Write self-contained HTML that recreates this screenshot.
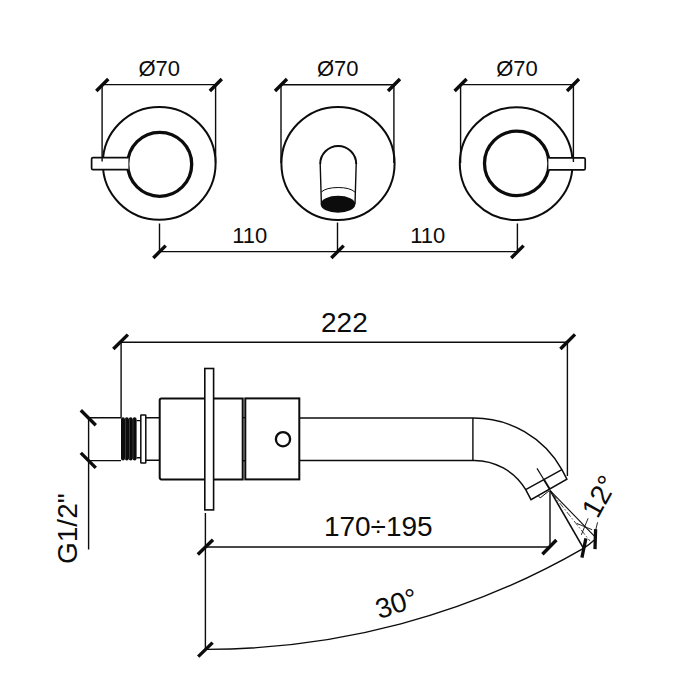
<!DOCTYPE html>
<html><head><meta charset="utf-8"><title>Drawing</title>
<style>
html,body{margin:0;padding:0;background:#fff;}
svg{display:block;}
text{font-family:"Liberation Sans",sans-serif;fill:#0c0c0c;}
.t{stroke:#0c0c0c;stroke-width:1.4;fill:none;}
.o{stroke:#0c0c0c;stroke-width:2;fill:none;}
.k{stroke:#0c0c0c;stroke-width:3.4;fill:none;stroke-linecap:butt;}
</style></head><body>
<svg width="700" height="700" viewBox="0 0 700 700">
<rect width="700" height="700" fill="#fff"/>
<!-- TOP LEFT -->
<g id="tl">
<circle class="o" cx="159.2" cy="163.3" r="56.4"/>
<circle class="o" cx="159.7" cy="164.3" r="32" style="stroke-width:3.3"/>
<path class="o" d="M128.4,157.7H93 Q91.6,157.7 91.6,159.1 V168.3 Q91.6,169.7 93,169.7 H128.4" style="stroke-width:1.7;fill:#fff"/>
<path class="t" d="M102.1,84.6V161.4 M215.6,84.6V163 M102.1,84.6H215.6"/>
<path class="k" d="M96.3,91 L108.3,79 M209.8,91 L221.8,79"/>
<text x="159.3" y="76" font-size="22" text-anchor="middle">Ø70</text>
</g>
<!-- TOP MIDDLE -->
<g id="tm">
<circle class="o" cx="338" cy="163.5" r="56.6"/>
<path class="t" d="M281,84.7V163 M393.9,84.7V163 M281,84.7H393.9"/>
<path class="k" d="M275,91 L287,79 M388,91 L400,79"/>
<text x="337.7" y="76" font-size="22" text-anchor="middle">Ø70</text>
<path class="o" d="M320.2,164 A18,18 0 0 1 356.2,164" style="stroke-width:2"/>
<path class="t" d="M320.2,164 L321.4,204 M356.2,164 L355,204" style="stroke-width:1.4"/>
<path class="t" d="M321.3,192 A18.5,7.7 0 0 1 354.9,192" style="stroke-width:1"/>
<ellipse cx="338" cy="204.2" rx="17.3" ry="8.5" fill="#0c0c0c"/>
</g>
<!-- TOP RIGHT -->
<g id="tr">
<circle class="o" cx="516.2" cy="163.6" r="56.4"/>
<circle class="o" cx="516.7" cy="163.4" r="32.2" style="stroke-width:3.3"/>
<path class="o" d="M548.4,157.9H583.8 Q585.2,157.9 585.2,159.3 V168.5 Q585.2,169.9 583.8,169.9 H548.4" style="stroke-width:1.7;fill:#fff"/>
<path class="t" d="M460.6,84.6V163 M573.4,84.6V162 M460.6,84.6H573.4"/>
<path class="k" d="M454.6,91 L466.6,79 M567,91 L579,79"/>
<text x="517" y="76" font-size="22" text-anchor="middle">Ø70</text>
</g>
<!-- 110 dims -->
<g id="d110">
<path class="t" d="M159.5,223.6V251.6 M337.5,222.5V251.6 M517.4,223.6V251.6 M159.5,251.6H517.4"/>
<path class="k" d="M153.3,258 L165.7,245.6 M331.3,258 L343.7,245.6 M511.2,258 L523.6,245.6"/>
<text x="249.7" y="243" font-size="22" text-anchor="middle">110</text>
<text x="427.8" y="243" font-size="22" text-anchor="middle">110</text>
</g>
<!-- SIDE VIEW -->
<g id="side">
<!-- 222 dim -->
<path class="t" d="M121.1,342.3H567.4 M121.1,342.3V417.7 M567.4,342.3V476"/>
<path class="k" d="M113.3,349 L127.9,334.6 M560.4,349 L575,334.4"/>
<text x="344.4" y="331.8" font-size="28" text-anchor="middle">222</text>
<!-- G1/2 dim -->
<path class="t" d="M88.6,417.7V549.6 M88.6,417.7H121 M88.6,460.6H121"/>
<path class="k" d="M80.8,410.3 L95.8,425.3 M80.8,452.9 L95.8,467.9"/>
<text transform="translate(77.3,564) rotate(-90)" font-size="28">G1/2"</text>
<!-- thread -->
<path d="M121,419.2 a1.95,2 0 0 1 3.9,0 a1.95,2 0 0 1 3.9,0 a1.95,2 0 0 1 3.9,0 a1.95,2 0 0 1 3.9,0 V458.6 a1.95,2 0 0 1 -3.9,0 a1.95,2 0 0 1 -3.9,0 a1.95,2 0 0 1 -3.9,0 a1.95,2 0 0 1 -3.9,0 Z" fill="#0c0c0c"/>
<path d="M125.5,419V459 M129.5,419V459 M133,419V459" stroke="#555" style="stroke-width:0.6"/>
<path class="t" d="M136.6,420.6H141 M136.6,457.8H141" style="stroke-width:1.4"/>
<rect class="o" x="140.8" y="415" width="5" height="48" rx="0.6" style="stroke-width:1.5"/>
<path class="t" d="M145.8,417.7H159.5 M145.8,460.2H159.5" style="stroke-width:1.4"/>
<!-- body1 -->
<path class="o" d="M242.7,398.4H161.5 Q159.7,398.4 159.7,400.2 V477.6 Q159.7,479.4 161.5,479.4 H242.7 Z"/>
<!-- plate -->
<rect class="o" x="204.8" y="368.5" width="8.8" height="141.4" style="stroke-width:1.6;fill:#fff"/>
<!-- gap lines -->
<path class="t" d="M242.7,417.6H245.3 M242.7,460.8H245.3"/>
<!-- body2 -->
<rect class="o" x="245.3" y="398.4" width="54" height="81"/>
<circle class="o" cx="283" cy="439.2" r="7.1" style="stroke-width:2.3"/>
<!-- spout -->
<path class="t" d="M299.3,418H472.9 A101.4,101.4 0 0 1 561.9,469.6 L566.9,479.1 L531,499.7 L525.7,489.7 A60,60 0 0 0 472.9,460.4 H299.3" style="stroke-width:1.5"/>
<path class="t" d="M472.9,418V460.4 M561.9,469.6 L525.7,489.7"/>
<path class="t" d="M537,468.4 L543.5,479" style="stroke-width:1.2"/>
<path class="t" d="M543.5,479 L550,489.6" style="stroke-width:1.9"/>
<path class="t" d="M538.1,495.6 L540.2,497.9 L549.4,490.6" style="stroke-width:1"/>
<!-- 170-195 dim -->
<path class="t" d="M205.4,513V649.4 M550,490.6V547 M205.4,547H550"/>
<path class="k" d="M197.8,554.4 L213,539.8 M542.4,554.2 L556.4,540"/>
<text x="378.3" y="536.1" font-size="28" text-anchor="middle">170÷195</text>
<!-- 30 arc -->
<path class="t" d="M205.4,649.4 A754,754 0 0 0 583,548.6 A66.7,66.7 0 0 0 594.9,539.6"/>
<path class="k" d="M198.2,656.6 L212.6,642.6"/>
<text transform="translate(399.4,612.6) rotate(-18)" font-size="28" text-anchor="middle">30°</text>
<!-- 12 deg -->
<path class="t" d="M550.2,490.6 L583.4,548.2" style="stroke-width:1.6"/>
<path class="t" d="M550.2,490.6 L594.6,536.4" style="stroke-width:1.1"/>
<path class="t" d="M552.5,494 L590,541" style="stroke-width:0.9;stroke-dasharray:6 2 1.5 2;stroke:#333"/>
<path class="t" d="M576.7,523.4 L592.1,529.7 M588.1,518.3 L581.3,534.9 M597.6,522.3 L595.6,530.3" style="stroke-width:0.9"/>
<path class="k" d="M585.9,538.3 L581.9,557.7 M595.6,529.1 L595,549.1" style="stroke-width:3.3"/>
<text transform="translate(597.6,519.5) rotate(-61)" font-size="28">12°</text>
</g>
</svg>
</body></html>
